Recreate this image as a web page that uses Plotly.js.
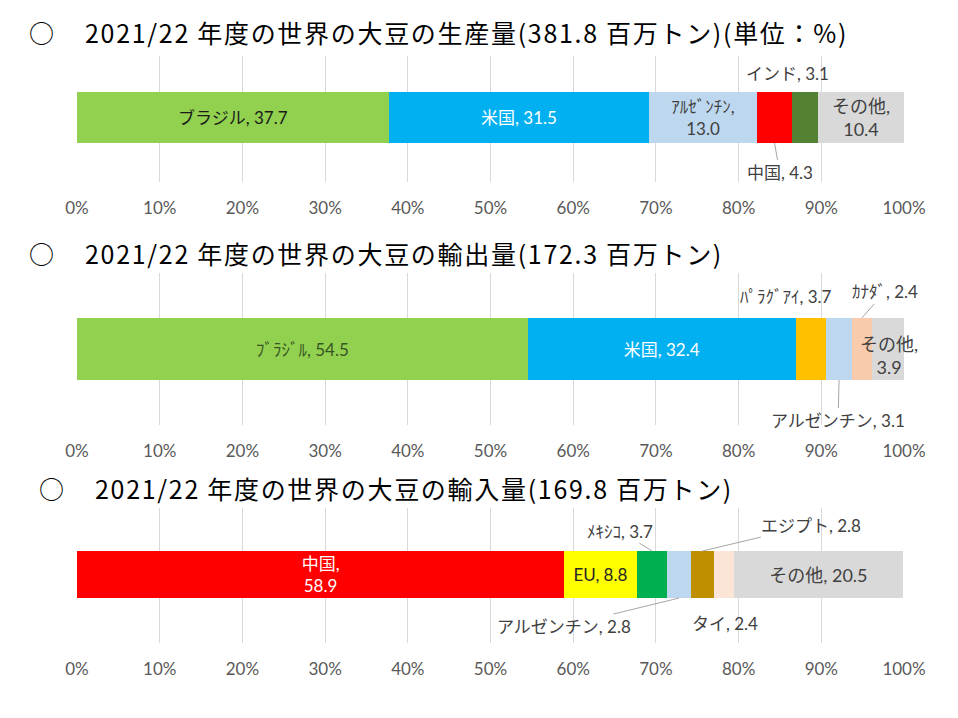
<!DOCTYPE html>
<html>
<head>
<meta charset="utf-8">
<script src="https://cdn.plot.ly/plotly-3.0.1.min.js"></script>
<style>body{margin:0;background:#fff}</style>
</head>
<body>
<div id="chart" style="width:958px;height:718px"></div>
<script>
// ---- Data ----
const titles = [
  '2021/22 年度の世界の大豆の生産量(381.8 百万トン)(単位：%)',
  '2021/22 年度の世界の大豆の輸出量(172.3 百万トン)',
  '2021/22 年度の世界の大豆の輸入量(169.8 百万トン)'
];
const prodNames  = ['ブラジル', '米国', 'ｱﾙｾﾞﾝﾁﾝ', '中国', 'インド', 'その他'];
const prodShares = [37.7, 31.5, 13.0, 4.3, 3.1, 10.4];
const expNames   = ['ﾌﾞﾗｼﾞﾙ', '米国', 'ﾊﾟﾗｸﾞｱｲ', 'アルゼンチン', 'ｶﾅﾀﾞ', 'その他'];
const expShares  = [54.5, 32.4, 3.7, 3.1, 2.4, 3.9];
const impNames   = ['中国', 'EU', 'ﾒｷｼｺ', 'アルゼンチン', 'エジプト', 'タイ', 'その他'];
const impShares  = [58.9, 8.8, 3.7, 2.8, 2.8, 2.4, 20.5];
const tickVals   = [0, 10, 20, 30, 40, 50, 60, 70, 80, 90, 100];
const tickText   = ['0%', '10%', '20%', '30%', '40%', '50%', '60%', '70%', '80%', '90%', '100%'];

// ---- Styles / placement ----
const colorOf = {
  'ブラジル':'#92D050','ﾌﾞﾗｼﾞﾙ':'#92D050','米国':'#00B0F0','ｱﾙｾﾞﾝﾁﾝ':'#BDD7EE','アルゼンチン':'#BDD7EE',
  '中国':'#FF0000','インド':'#548235','その他':'#D9D9D9','ﾊﾟﾗｸﾞｱｲ':'#FFC000','ｶﾅﾀﾞ':'#F8CBAD',
  'EU':'#FFFF00','ﾒｷｼｺ':'#00B050','エジプト':'#BF8F00','タイ':'#FCE4D6'
};
const FONT = 'Lato, "Noto Sans CJK JP", sans-serif';
const DARK = '#404040';
const LBL = 17;
const place = [
  [ {in:true,color:'#1a1a1a'}, {in:true,color:'#ffffff'}, {in:true,br:true,color:DARK},
    {edge:'bottom',ax:5,ay:29,line:true}, {edge:'top',ax:-18,ay:-18,line:false}, {in:true,br:true,color:DARK,size:18} ],
  [ {in:true,color:'#375623'}, {in:true,color:'#ffffff'}, {edge:'top',ax:-25,ay:-21,line:false},
    {edge:'bottom',ax:-1,ay:40,line:true}, {edge:'top',ax:23,ay:-26,line:true}, {edge:'mid',ax:1,ay:6,line:false,br:true,size:18} ],
  [ {in:true,br:true,color:'#ffffff'}, {in:true,color:'#262626'}, {edge:'top',ax:-32,ay:-20,line:true},
    {edge:'bottom',ax:-115,ay:28,line:true}, {edge:'top',ax:109,ay:-26,line:true}, {edge:'bottom',ax:1,ay:25,line:false},
    {in:true,color:DARK,size:18} ]
];
const charts = [
  {names:prodNames, vals:prodShares, width:0.405},
  {names:expNames,  vals:expShares,  width:0.408},
  {names:impNames,  vals:impShares,  width:0.348}
];

const traces = [];
const annotations = [];
charts.forEach((c, ci) => {
  const xa = ci === 0 ? 'x' : 'x' + (ci + 1);
  const ya = ci === 0 ? 'y' : 'y' + (ci + 1);
  let cum = 0;
  c.names.forEach((n, i) => {
    const v = c.vals[i];
    const p = place[ci][i];
    const label = n + (p.br ? ',<br>' : ', ') + v.toFixed(1);
    traces.push({
      type:'bar', orientation:'h', x:[v], y:[0], xaxis:xa, yaxis:ya, width:c.width,
      marker:{color:colorOf[n], line:{width:0}},
      text:[p.in ? label : ''], textposition:'inside', insidetextanchor:'middle', textangle:0,
      constraintext:'none', cliponaxis:false,
      textfont:{family:FONT, size:p.size || LBL, color:p.color || DARK},
      hoverinfo:'none'
    });
    if (!p.in) {
      const yy = p.edge === 'top' ? c.width / 2 : (p.edge === 'bottom' ? -c.width / 2 : 0);
      annotations.push({
        xref:xa, yref:ya, x:cum + v / 2, y:yy, text:label, showarrow:true,
        arrowhead:0, arrowwidth:1, arrowcolor:p.line ? '#a6a6a6' : 'rgba(0,0,0,0)',
        ax:p.ax, ay:p.ay, standoff:0,
        font:{family:FONT, size:p.size || LBL, color:DARK}
      });
    }
    cum += v;
  });
});

// titles
const titlePos = [ {cx:41, tx:85, y:32}, {cx:41, tx:85, y:253}, {cx:51, tx:95, y:488} ];
const L = 77, R = 904, H = 718;
titles.forEach((t, i) => {
  const tp = titlePos[i];
  annotations.push({xref:'paper', yref:'paper', x:(tp.cx - L) / (R - L), y:1 - tp.y / H, xanchor:'center', yanchor:'middle',
    text:'○', showarrow:false, font:{family:'"Noto Sans CJK JP"', size:25, color:'#000'}});
  annotations.push({xref:'paper', yref:'paper', x:(tp.tx - L) / (R - L), y:1 - tp.y / H, xanchor:'left', yanchor:'middle',
    text:t, showarrow:false, font:{family:'"Noto Sans CJK JP"', size:25, color:'#000'}});
});

function xAxis(anchor) {
  return {anchor:anchor, domain:[0,1], range:[0,100], tickmode:'array', tickvals:tickVals, ticktext:tickText,
    showgrid:true, gridcolor:'#d9d9d9', gridwidth:1, zeroline:false, showline:false, ticks:'',
    tickfont:{family:'Lato, sans-serif', size:17, color:'#595959'}, ticklabelstandoff:14, fixedrange:true};
}
const layout = {
  width:958, height:718, margin:{l:L, r:958 - R, t:0, b:0},
  paper_bgcolor:'#ffffff', plot_bgcolor:'#ffffff', barmode:'stack', showlegend:false,
  xaxis:xAxis('y'), xaxis2:xAxis('y2'), xaxis3:xAxis('y3'),
  yaxis:{domain:[1 - 182 / H, 1 - 56 / H], range:[-0.512, 0.488], visible:false, fixedrange:true},
  yaxis2:{domain:[1 - 425 / H, 1 - 273 / H], range:[-0.5, 0.5], visible:false, fixedrange:true},
  yaxis3:{domain:[1 - 643 / H, 1 - 508 / H], range:[-0.507, 0.493], visible:false, fixedrange:true},
  annotations:annotations
};
Plotly.newPlot('chart', traces, layout, {staticPlot:true, displayModeBar:false}).then(gd => {
  // widen title lettering to match the reference's wide title font, keeping the left edge in place
  const host = gd.getBoundingClientRect();
  gd.querySelectorAll('.annotation-text').forEach(el => {
    const idx = titles.indexOf(el.textContent);
    if (idx < 0) return;
    el.style.letterSpacing = '1.7px';
    const left = el.getBoundingClientRect().left - host.left;
    const dx = titlePos[idx].tx - left;
    const prev = el.getAttribute('transform') || '';
    el.setAttribute('transform', prev + ' translate(' + dx + ',0)');
  });
});
</script>
</body>
</html>
